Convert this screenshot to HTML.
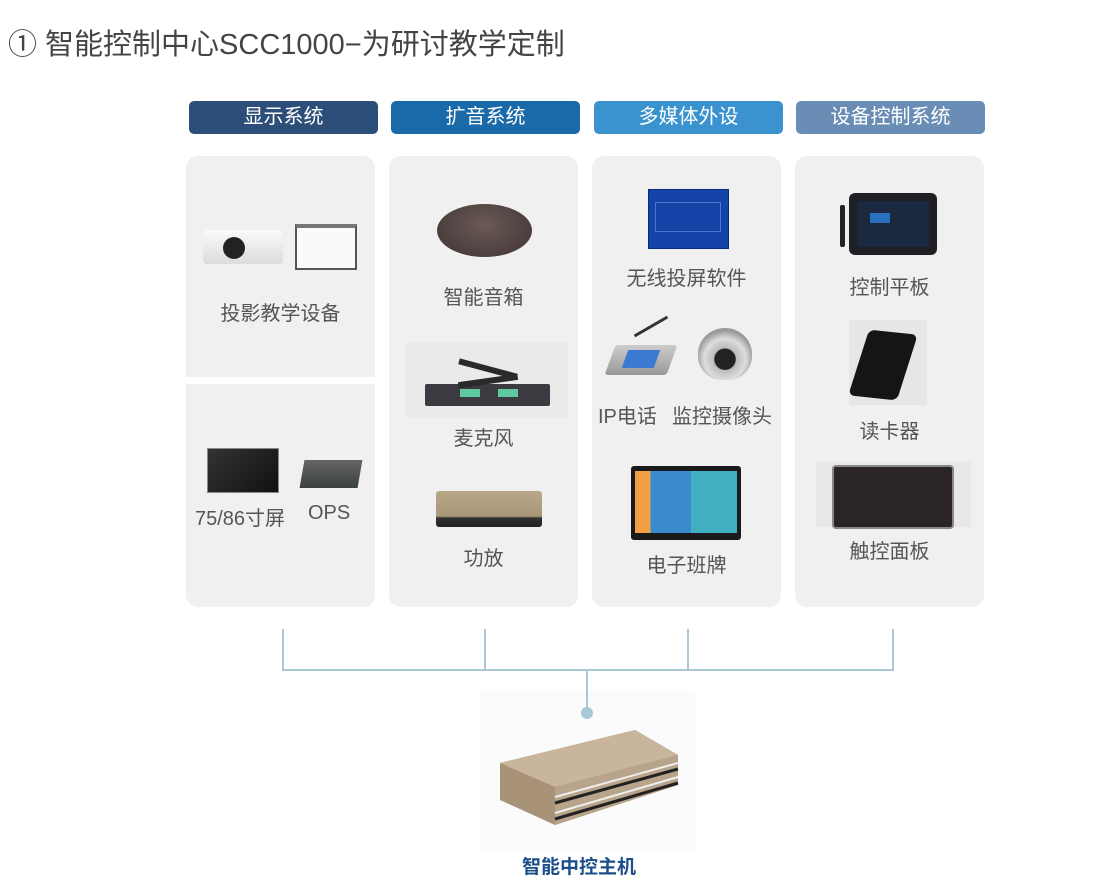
<!DOCTYPE html>
<html><head><meta charset="utf-8"><style>
*{margin:0;padding:0;box-sizing:border-box}
body{width:1102px;height:883px;background:#fff;position:relative;overflow:hidden;font-family:"Liberation Sans","Noto Sans CJK SC",sans-serif}
.a{position:absolute}
.t{position:absolute;font-size:29px;color:#444;left:8px;top:21px;white-space:nowrap}
.h{position:absolute;top:101px;height:33px;width:189px;border-radius:5px;color:#fff;font-size:20px;text-align:center;line-height:33px}
.p{position:absolute;background:#f0f0f0;border-radius:12px}
.l{position:absolute;font-size:20px;color:#555;text-align:center;white-space:nowrap}
.ln{position:absolute;background:#aac8d8}
</style></head><body>
<div class="t">① 智能控制中心SCC1000−为研讨教学定制</div>

<div class="h" style="left:189px;background:#2d4e78">显示系统</div>
<div class="h" style="left:391px;background:#1a69a8">扩音系统</div>
<div class="h" style="left:594px;background:#3a93cf">多媒体外设</div>
<div class="h" style="left:796px;background:#6a8db5">设备控制系统</div>

<div class="p" style="left:186px;top:156px;width:189px;height:221px;border-radius:12px 12px 0 0"></div>
<div class="p" style="left:186px;top:384px;width:189px;height:223px;border-radius:0 0 12px 12px"></div>
<div class="p" style="left:389px;top:156px;width:189px;height:451px"></div>
<div class="p" style="left:592px;top:156px;width:189px;height:451px"></div>
<div class="p" style="left:795px;top:156px;width:189px;height:451px"></div>

<!-- col1 images -->
<div class="a" style="left:203px;top:230px;width:80px;height:34px;background:linear-gradient(#fafafa,#dcdcdc);border-radius:4px"></div>
<div class="a" style="left:223px;top:237px;width:22px;height:22px;background:#222;border-radius:50%"></div>
<div class="a" style="left:295px;top:224px;width:62px;height:46px;background:#fafafa;border:2px solid #555;border-top:4px solid #777"></div>
<div class="l" style="left:186px;top:297px;width:189px">投影教学设备</div>

<div class="a" style="left:207px;top:448px;width:72px;height:45px;background:linear-gradient(135deg,#333,#111);border:1px solid #888"></div>
<div class="a" style="left:302px;top:460px;width:58px;height:28px;background:linear-gradient(#666,#3a4040);transform:skewX(-10deg)"></div>
<div class="l" style="left:195px;top:502px">75/86寸屏</div>
<div class="l" style="left:308px;top:502px">OPS</div>

<!-- col2 -->
<div class="a" style="left:437px;top:204px;width:95px;height:53px;background:radial-gradient(ellipse at 50% 40%,#6a5a58,#3e3230);border-radius:50%"></div>
<div class="l" style="left:389px;top:281px;width:189px">智能音箱</div>
<div class="a" style="left:405px;top:343px;width:163px;height:74px;background:#eaeaea"></div>
<div class="a" style="left:425px;top:384px;width:125px;height:22px;background:#3a3a40;border-radius:2px"></div>
<div class="a" style="left:460px;top:389px;width:20px;height:8px;background:#5fc9a0"></div>
<div class="a" style="left:498px;top:389px;width:20px;height:8px;background:#5fc9a0"></div>
<div class="a" style="left:458px;top:366px;width:60px;height:6px;background:#2a2a2a;transform:rotate(15deg)"></div>
<div class="a" style="left:458px;top:378px;width:60px;height:6px;background:#2a2a2a;transform:rotate(-8deg)"></div>
<div class="l" style="left:389px;top:422px;width:189px">麦克风</div>
<div class="a" style="left:436px;top:491px;width:106px;height:36px;background:linear-gradient(#b8a888 0%,#a89878 70%,#333 75%,#222);border-radius:3px"></div>
<div class="l" style="left:389px;top:542px;width:189px">功放</div>

<!-- col3 -->
<div class="a" style="left:648px;top:189px;width:81px;height:60px;background:#1444a8;border:1px solid #0a2a80"></div>
<div class="a" style="left:655px;top:202px;width:66px;height:30px;border:1px solid #4a78d0"></div>
<div class="l" style="left:592px;top:262px;width:189px">无线投屏软件</div>
<div class="a" style="left:610px;top:345px;width:62px;height:30px;background:linear-gradient(#ccc,#999);transform:skewX(-20deg);border-radius:3px"></div>
<div class="a" style="left:625px;top:350px;width:32px;height:18px;background:#3a7ad0;transform:skewX(-20deg)"></div>
<div class="a" style="left:632px;top:325px;width:38px;height:3px;background:#333;transform:rotate(-30deg)"></div>
<div class="a" style="left:698px;top:328px;width:54px;height:52px;background:radial-gradient(circle at 50% 60%,#222 25%,#bbb 27%,#ddd 50%,#999 70%);border-radius:50% 50% 45% 45%"></div>
<div class="l" style="left:598px;top:400px">IP电话</div>
<div class="l" style="left:672px;top:400px">监控摄像头</div>
<div class="a" style="left:631px;top:466px;width:110px;height:74px;background:#1a1a1a;border-radius:3px"></div>
<div class="a" style="left:635px;top:471px;width:102px;height:62px;background:linear-gradient(90deg,#f0a040 0 15%,#3a8ad0 15% 55%,#40b0c0 55%)"></div>
<div class="l" style="left:592px;top:549px;width:189px">电子班牌</div>

<!-- col4 -->
<div class="a" style="left:849px;top:193px;width:88px;height:62px;background:#1e2024;border-radius:6px"></div>
<div class="a" style="left:857px;top:201px;width:72px;height:46px;background:#1a2840"></div>
<div class="a" style="left:870px;top:213px;width:20px;height:10px;background:#2a70c0"></div>
<div class="a" style="left:840px;top:205px;width:5px;height:42px;background:#222;border-radius:2px"></div>
<div class="l" style="left:795px;top:271px;width:189px">控制平板</div>
<div class="a" style="left:849px;top:320px;width:78px;height:85px;background:#e6e6e6"></div>
<div class="a" style="left:858px;top:332px;width:50px;height:66px;background:#151515;border-radius:6px;transform:skewX(-12deg) rotate(6deg)"></div>
<div class="l" style="left:795px;top:415px;width:189px">读卡器</div>
<div class="a" style="left:816px;top:462px;width:155px;height:65px;background:#e8e8e8"></div>
<div class="a" style="left:832px;top:465px;width:122px;height:64px;background:#2a2424;border:2px solid #888;border-radius:4px"></div>
<div class="l" style="left:795px;top:535px;width:189px">触控面板</div>

<!-- main unit -->
<div class="a" style="left:480px;top:690px;width:215px;height:160px;background:#fbfbfb"></div>
<svg class="a" style="left:495px;top:725px" width="190" height="120">
<polygon points="5,38 140,5 183,30 183,60 60,100 5,75" fill="#a89378"/>
<polygon points="5,38 140,5 183,30 60,62" fill="#c8b59c"/>
<polygon points="60,62 183,30 183,60 60,100" fill="#b8a48a"/>
<polyline points="60,78 183,44" stroke="#222" stroke-width="3" fill="none"/>
<polyline points="60,94 183,58" stroke="#222" stroke-width="3" fill="none"/>
<polyline points="60,72 183,38" stroke="#eee" stroke-width="2" fill="none"/>
<polyline points="60,88 183,52" stroke="#eee" stroke-width="2" fill="none"/>
</svg>
<div class="a" style="left:522px;top:852px;font-size:19px;font-weight:bold;color:#1c4f8a;white-space:nowrap">智能中控主机</div>

<!-- connectors -->
<div class="ln" style="left:282px;top:629px;width:2px;height:41px"></div>
<div class="ln" style="left:484px;top:629px;width:2px;height:41px"></div>
<div class="ln" style="left:687px;top:629px;width:2px;height:41px"></div>
<div class="ln" style="left:892px;top:629px;width:2px;height:41px"></div>
<div class="ln" style="left:282px;top:669px;width:612px;height:2px"></div>
<div class="ln" style="left:586px;top:669px;width:2px;height:44px"></div>
<div class="ln" style="left:581px;top:707px;width:12px;height:12px;border-radius:50%"></div>
</body></html>
